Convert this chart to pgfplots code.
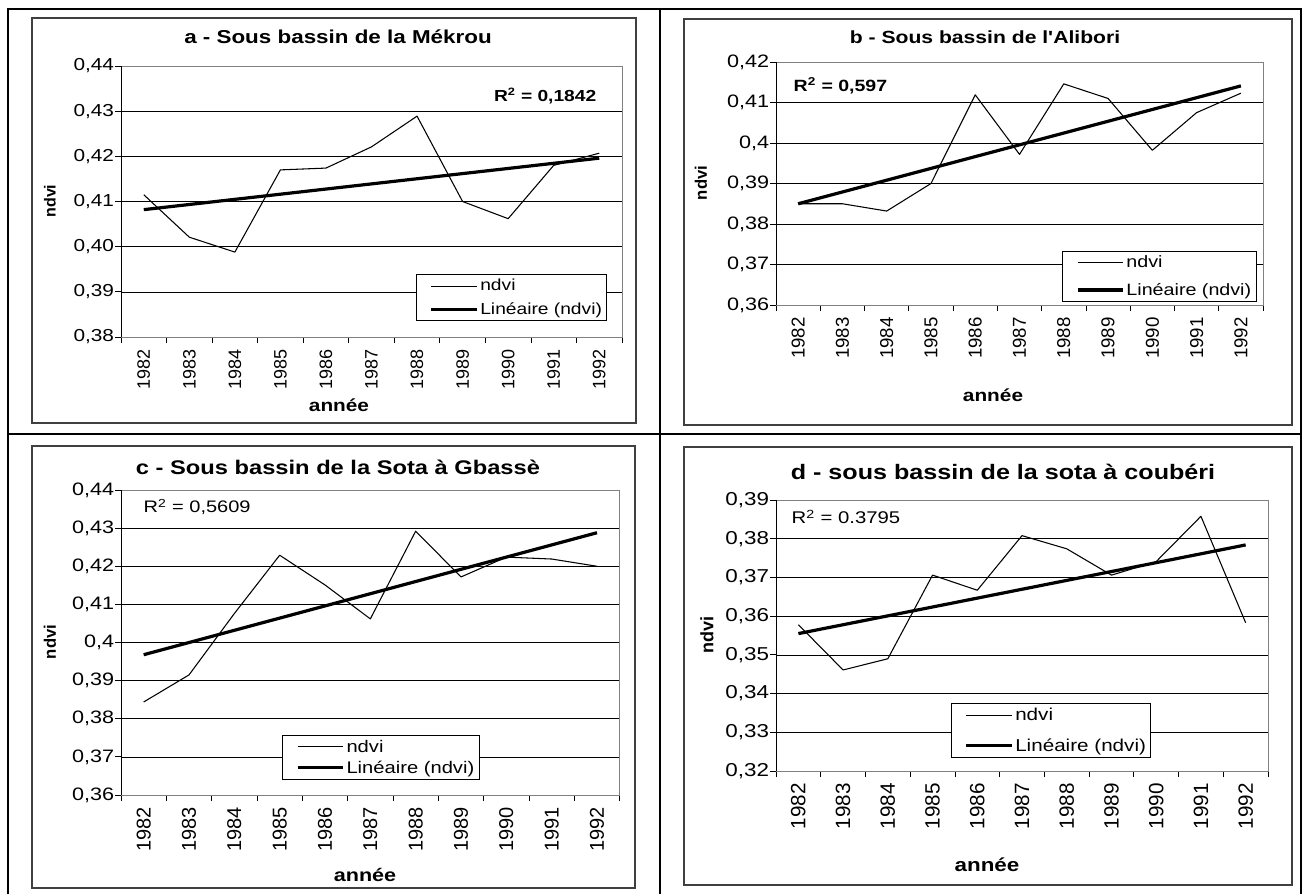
\documentclass[border=0pt]{standalone}
\usepackage{fontspec}
\setmainfont{Liberation Sans}
\newfontfamily\wf{Liberation Sans}[FakeStretch=1.2]
\usepackage{pgfplots}
\pgfplotsset{compat=1.18}

\newcommand{\fs}[1]{\fontsize{#1}{#1}\selectfont}

\pgfplotsset{
  panel/.style={
    scale only axis,
    xmin=-0.5, xmax=10.5,
    xtick={0,1,...,10},
    xticklabels={1982,1983,1984,1985,1986,1987,1988,1989,1990,1991,1992},
    minor xtick={-0.5,0.5,...,10.5},
    tick pos=left,
    major tick length=0pt,
    minor tick length=4.5pt,
    tick align=outside,
    tick style={black, line width=0.6pt},
    ymajorgrids,
    major grid style={black, line width=0.5pt},
    axis line style={draw=gray, line width=0.6pt},
    xticklabel style={rotate=90, anchor=east, inner sep=0pt},
    xticklabel shift=9pt,
    yticklabel style={anchor=east, inner sep=0pt,
      /pgf/number format/use comma, /pgf/number format/fixed,
      /pgf/number format/precision=2, /pgf/number format/assume math mode=true},
    yticklabel shift=5pt,
    scaled y ticks=false,
    legend cell align=left,
    legend image code/.code={\path (0pt,0pt); \draw[##1] (8pt,0pt) -- (42pt,0pt);},
    legend style={draw=black, fill=white, line width=0.5pt, inner xsep=2pt,
      inner ysep=2pt, nodes={inner sep=1.5pt}},
  },
  ndvi/.style={black, line width=0.8pt, line join=round},
  trend/.style={black, line width=2.4pt},
}

% plot area edges: left black, top and right grey as in the original
\newcommand{\plotedges}{%
  \draw[gray, line width=0.6pt] (rel axis cs:0,1) -- (rel axis cs:1,1) -- (rel axis cs:1,0);
  \draw[black, line width=0.6pt] (rel axis cs:0,0) -- (rel axis cs:0,1);}

\begin{document}
\begin{tikzpicture}[x=0.75pt, y=-0.75pt]
\useasboundingbox (0,0) rectangle (1308,894);

% table rules
\draw[line width=1.9pt] (8,894) -- (8,9) -- (1301,9) -- (1301,894);
\draw[line width=1.9pt] (8,434) -- (1301,434);
\draw[line width=1.9pt] (660,9) -- (660,894);

% chart frames
\draw[line width=1.3pt, black!75] (32,18) rectangle (636,423);
\draw[line width=1.3pt, black!75] (684,19) rectangle (1292,425);
\draw[line width=1.3pt, black!75] (32,446) rectangle (635,888);
\draw[line width=1.3pt, black!75] (684,447) rectangle (1292,885);

% ---------- a ----------
\begin{axis}[panel, at={(90.75pt,-252.75pt)}, anchor=south west,
  width=375.75pt, height=203.25pt,
  ymin=0.38, ymax=0.44,
  ytick={0.38,0.39,0.40,0.41,0.42,0.43,0.44},
  minor ytick={0.38,0.39,0.40,0.41,0.42,0.43,0.44},
  yticklabel style={/pgf/number format/fixed zerofill, font=\wf\fs{13}},
  xticklabel style={font=\fs{13.5}},
  legend style={at={(0.970,0.059)}, anchor=south east, font=\wf\fs{12}, row sep=4pt}]
\addplot[ndvi] coordinates {(0,0.4115) (1,0.4021) (2,0.3988) (3,0.4170) (4,0.4174)
  (5,0.4221) (6,0.4289) (7,0.4100) (8,0.4062) (9,0.4180) (10,0.4207)};
\addlegendentry{ndvi}
\addplot[trend] coordinates {(0,0.4082) (10,0.4196)};
\addlegendentry{Linéaire (ndvi)}
\plotedges
\end{axis}
\node[font=\wf\bfseries\fs{14}] at (338,37) {a - Sous bassin de la Mékrou};
\node[font=\bfseries\fs{12}, rotate=90] at (50,201) {ndvi};
\node[font=\wf\bfseries\fs{13}] at (339,405) {année};
\node[font=\wf\bfseries\fs{12}, anchor=east] at (601,96) {R\textsuperscript{2} = 0,1842};

% ---------- b ----------
\begin{axis}[panel, at={(582pt,-228.75pt)}, anchor=south west,
  width=365.25pt, height=182.25pt,
  ymin=0.36, ymax=0.42,
  ytick={0.36,0.37,0.38,0.39,0.40,0.41,0.42},
  minor ytick={0.36,0.37,0.38,0.39,0.40,0.41,0.42},
  yticklabel style={font=\wf\fs{13.5}},
  xticklabel style={font=\fs{14}},
  legend style={at={(0.986,0.012)}, anchor=south east, font=\wf\fs{12.3}, row sep=7pt}]
\addplot[ndvi] coordinates {(0,0.3850) (1,0.3850) (2,0.3832) (3,0.3900) (4,0.4119)
  (5,0.3972) (6,0.4146) (7,0.4110) (8,0.3982) (9,0.4075) (10,0.4123)};
\addlegendentry{ndvi}
\addplot[trend] coordinates {(0,0.3850) (10,0.4141)};
\addlegendentry{Linéaire (ndvi)}
\plotedges
\end{axis}
\node[font=\wf\bfseries\fs{13.2}] at (985,37) {b - Sous bassin de l'Alibori};
\node[font=\bfseries\fs{12.5}, rotate=90] at (701,183) {ndvi};
\node[font=\wf\bfseries\fs{13}] at (993,395) {année};
\node[font=\wf\bfseries\fs{12.2}, anchor=west] at (789,86) {R\textsuperscript{2} = 0,597};

% ---------- c ----------
\begin{axis}[panel, at={(90.75pt,-596.25pt)}, anchor=south west,
  width=374pt, height=228.75pt,
  ymin=0.36, ymax=0.44,
  ytick={0.36,0.37,0.38,0.39,0.40,0.41,0.42,0.43,0.44},
  minor ytick={0.36,0.37,0.38,0.39,0.40,0.41,0.42,0.43,0.44},
  yticklabel style={font=\wf\fs{13.5}},
  xticklabel style={font=\fs{15}},
  legend style={at={(0.521,0.049)}, anchor=south, font=\wf\fs{12.6}, row sep=2pt}]
\addplot[ndvi] coordinates {(0,0.3844) (1,0.3915) (2,0.4076) (3,0.4229) (4,0.4151)
  (5,0.4062) (6,0.4292) (7,0.4172) (8,0.4224) (9,0.4219) (10,0.4200)};
\addlegendentry{ndvi}
\addplot[trend] coordinates {(0,0.3968) (10,0.4288)};
\addlegendentry{Linéaire (ndvi)}
\plotedges
\end{axis}
\node[font=\wf\bfseries\fs{14.8}] at (338,467) {c - Sous bassin de la Sota à Gbassè};
\node[font=\bfseries\fs{12.5}, rotate=90] at (50,642) {ndvi};
\node[font=\wf\bfseries\fs{13.5}] at (365,875) {année};
\node[font=\wf\fs{12.5}, anchor=west] at (139,507) {R\textsuperscript{2} = 0,5609};

% ---------- d ----------
\begin{axis}[panel, at={(582pt,-578.25pt)}, anchor=south west,
  width=369pt, height=203.25pt,
  ymin=0.32, ymax=0.39,
  ytick={0.32,0.33,0.34,0.35,0.36,0.37,0.38,0.39},
  minor ytick={0.32,0.33,0.34,0.35,0.36,0.37,0.38,0.39},
  yticklabel style={/pgf/number format/fixed zerofill, font=\wf\fs{14}},
  xticklabel style={font=\fs{15.5}},
  legend style={at={(0.559,0.048)}, anchor=south, font=\wf\fs{12.9}, row sep=9pt}]
\addplot[ndvi] coordinates {(0,0.3578) (1,0.3461) (2,0.3490) (3,0.3706) (4,0.3667)
  (5,0.3808) (6,0.3774) (7,0.3706) (8,0.3741) (9,0.3858) (10,0.3583)};
\addlegendentry{ndvi}
\addplot[trend] coordinates {(0,0.3555) (10,0.3784)};
\addlegendentry{Linéaire (ndvi)}
\plotedges
\end{axis}
\node[font=\wf\bfseries\fs{15.7}] at (1003,472) {d - sous bassin de la sota à coubéri};
\node[font=\bfseries\fs{13.5}, rotate=90] at (707,635) {ndvi};
\node[font=\wf\bfseries\fs{14}] at (987,865) {année};
\node[font=\wf\fs{12.7}, anchor=west] at (787,517) {R\textsuperscript{2} = 0.3795};
\end{tikzpicture}
\end{document}
